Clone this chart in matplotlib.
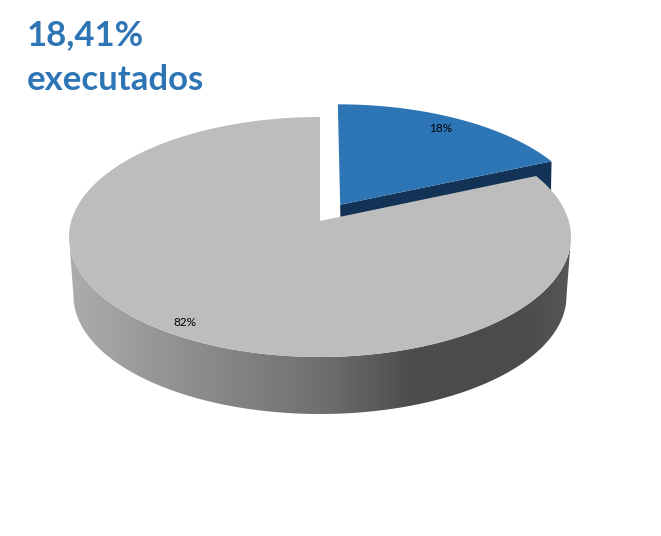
import numpy as np
import matplotlib
matplotlib.use('Agg')
import matplotlib.pyplot as plt
from matplotlib.colors import LinearSegmentedColormap
from matplotlib.patches import Polygon

labels = ['18%', '82%']
values = [18.41, 81.59]
title_lines = ['18,41%', 'executados']

blue = '#2e75b6'
blue_dark = '#123355'
grey_top = '#bdbdbd'

# pie geometry in pixels
cx, cy = 320.0, 237.0
rx, ry = 251.0, 120.0
k = 16.0 / ry        # perspective, moves pie centre up by 16 px
depth_bottom = 59.0
rx_bottom, ry_bottom = 246.5, 118.0
explode = 0.163
explode_turn = 2.7   # explode direction is a bit off the slice middle


def project(x, y):
    # flat unit disc to pixels, the disc centre lands above the ellipse centre
    d = 1 + k * y
    xp = x * np.sqrt(1 - k ** 2) / d
    yp = (y + k) / d
    return cx + rx * xp, cy - ry * yp


def slice_outline(start, end, offset=0.0):
    # angles in degrees, clockwise from 12 o'clock
    mid = np.radians((start + end) / 2 - explode_turn)
    ox, oy = offset * np.sin(mid), offset * np.cos(mid)
    t = np.radians(np.linspace(start, end, 200))
    x = np.concatenate([[0], np.sin(t)]) + ox
    y = np.concatenate([[0], np.cos(t)]) + oy
    return project(x, y)


fig = plt.figure(figsize=(6.61, 5.36), dpi=100)
ax = fig.add_axes([0, 0, 1, 1])
ax.set_xlim(0, 661)
ax.set_ylim(536, 0)
ax.axis('off')

angles = np.cumsum([0] + values) * 360.0 / sum(values)

# exploded blue slice, its cut face goes under the grey top
bx, by = slice_outline(angles[0], angles[1], explode)
apex = (bx[0], by[0])
corner = (bx[-1], by[-1])
ax.fill([apex[0], corner[0], corner[0] - 1, apex[0] + 1],
        [apex[1], corner[1], corner[1] + 57, apex[1] + 57],
        color=blue_dark, lw=0, zorder=1)
ax.fill(bx, by, color=blue, lw=0, zorder=2)

# side of the grey slice with horizontal gradient
t = np.linspace(np.pi, 2 * np.pi, 300)
top_x, top_y = cx + rx * np.cos(t), cy - ry * np.sin(t)
bot_x = cx + rx_bottom * np.cos(t)
bot_y = cy + depth_bottom - ry_bottom * np.sin(t)
side = Polygon(np.column_stack([np.r_[top_x, bot_x[::-1]], np.r_[top_y, bot_y[::-1]]]),
               closed=True, fc='none', ec='none', transform=ax.transData)
ax.add_patch(side)
side_cmap = LinearSegmentedColormap.from_list('side', [
    (0.0, '#adadad'), (0.2, '#939393'), (0.5, '#707070'),
    (0.68, '#4d4d4d'), (0.9, '#4b4b4b'), (1.0, '#565656')])
im = ax.imshow(np.linspace(0, 1, 512).reshape(1, -1), cmap=side_cmap, aspect='auto',
               extent=(69, 571, 420, 230), zorder=3)
im.set_clip_path(side)
ax.set_xlim(0, 661)
ax.set_ylim(536, 0)

# grey top
gx, gy = slice_outline(angles[1], angles[2])
ax.fill(gx, gy, color=grey_top, lw=0, zorder=4)

ax.text(441, 129, labels[0], fontsize=8.5, family='Lato', color='black', ha='center', va='center', zorder=5)
ax.text(185, 322, labels[1], fontsize=8.5, family='Lato', color='black', ha='center', va='center', zorder=5)

ax.text(27, 35, title_lines[0], fontsize=25, family='Lato', fontweight='bold', color=blue, va='center', zorder=5)
ax.text(27, 80, title_lines[1], fontsize=25, family='Lato', fontweight='bold', color=blue, va='center', zorder=5)

fig.savefig('out.png', dpi=100, facecolor='white')
